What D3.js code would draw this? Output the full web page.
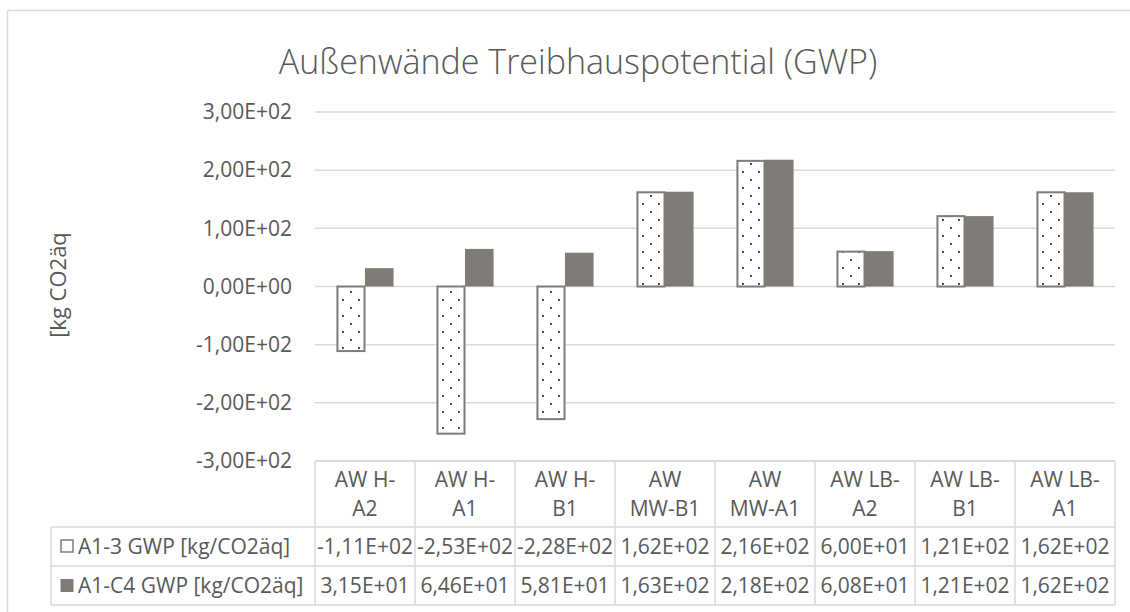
<!DOCTYPE html>
<html>
<head>
    <meta charset="utf-8" />
    <title>Außenwände Treibhauspotential (GWP)</title>
    <style>
        body { margin: 0; background: #fff; }
        text { font-family: "Open Sans", sans-serif; fill: #595959; }
    </style>
</head>
<body>
    <div id="chart"></div>
    <script src="https://cdn.jsdelivr.net/npm/d3@7"></script>
    <script>
        // data
        var categories = ["AW H-\nA2", "AW H-\nA1", "AW H-\nB1", "AW\nMW-B1", "AW\nMW-A1", "AW LB-\nA2", "AW LB-\nB1", "AW LB-\nA1"];
        var seriesNames = ["A1-3 GWP [kg/CO2äq]", "A1-C4 GWP [kg/CO2äq]"];
        var a13 = [-111, -253, -228, 162, 216, 60.0, 121, 162];
        var a1c4 = [31.5, 64.6, 58.1, 163, 218, 60.8, 121, 162];
        var yTicks = [-300, -200, -100, 0, 100, 200, 300];

        var width = 1130, height = 612;
        var plot = { left: 315, right: 1115, top: 112, bottom: 461 };
        var rowH = [66, 39, 39];   // table rows: header, series 1, series 2
        var legendLeft = 51;
        var fs = 21;

        var fmt = function (v) {
            var s = v.toExponential(2).split("e");
            var exp = +s[1];
            return s[0].replace(".", ",") + "E" + (exp < 0 ? "-" : "+") + String(Math.abs(exp)).padStart(2, "0");
        };

        var svg = d3.select("#chart").append("svg")
            .attr("width", width)
            .attr("height", height);

        var pat = svg.append("defs").append("pattern")
            .attr("id", "dots")
            .attr("patternUnits", "userSpaceOnUse")
            .attr("width", 16).attr("height", 16);
        pat.append("rect").attr("width", 16).attr("height", 16).attr("fill", "#fff");
        pat.append("rect").attr("x", 3).attr("y", 3).attr("width", 1.8).attr("height", 1.8).attr("fill", "#222");
        pat.append("rect").attr("x", 11).attr("y", 11).attr("width", 1.8).attr("height", 1.8).attr("fill", "#222");

        // chart frame
        svg.append("rect")
            .attr("x", 7.5).attr("y", 10.5)
            .attr("width", 1140).attr("height", 620)
            .attr("fill", "none")
            .attr("stroke", "#d9d9d9")
            .attr("stroke-width", 1.5);

        svg.append("text")
            .attr("x", 578).attr("y", 74)
            .attr("text-anchor", "middle")
            .attr("font-size", 34)
            .attr("font-weight", 300)
            .text("Außenwände Treibhauspotential (GWP)");

        var x0 = d3.scaleBand()
            .domain(categories)
            .range([plot.left, plot.right]);

        var x1 = d3.scaleBand()
            .domain(seriesNames)
            .range([0, x0.bandwidth()])
            .paddingOuter(0.75);

        var y = d3.scaleLinear()
            .domain([-300, 300])
            .range([plot.bottom, plot.top]);

        // gridlines
        svg.append("g")
            .selectAll("line")
            .data(yTicks)
            .join("line")
            .attr("x1", plot.left).attr("x2", plot.right)
            .attr("y1", d => y(d)).attr("y2", d => y(d))
            .attr("stroke", "#d9d9d9")
            .attr("stroke-width", 1.5);

        var yAxis = svg.append("g")
            .attr("transform", `translate(${plot.left},0)`)
            .call(d3.axisLeft(y).tickValues(yTicks).tickFormat(fmt).tickSize(0).tickPadding(23));
        yAxis.select(".domain").remove();
        yAxis.selectAll("text")
            .attr("font-size", fs)
            .attr("font-family", "'Open Sans', sans-serif")
            .attr("fill", "#595959");

        svg.append("text")
            .attr("transform", "translate(66,285) rotate(-90)")
            .attr("text-anchor", "middle")
            .attr("font-size", 22)
            .text("[kg CO2äq");

        var rows = categories.map((c, i) => ({ cat: c, values: [a13[i], a1c4[i]] }));

        var groups = svg.append("g")
            .selectAll("g")
            .data(rows)
            .join("g")
            .attr("transform", d => `translate(${x0(d.cat)},0)`);

        groups.selectAll("rect")
            .data(d => d.values.map((v, k) => ({ key: seriesNames[k], value: v, k: k })))
            .join("rect")
            .attr("x", d => x1(d.key) + (d.k === 0 ? 1 : 0))
            .attr("width", d => x1.bandwidth() - (d.k === 0 ? 1.5 : 0))
            .attr("y", d => y(Math.max(0, d.value)))
            .attr("height", d => Math.abs(y(d.value) - y(0)))
            .attr("fill", d => d.k === 0 ? "url(#dots)" : "#7f7c77")
            .attr("stroke", d => d.k === 0 ? "#7f7c77" : "none")
            .attr("stroke-width", 2);

        // data table
        var tTop = plot.bottom;
        var r1 = tTop + rowH[0], r2 = r1 + rowH[1], r3 = r2 + rowH[2];
        var table = svg.append("g")
            .attr("stroke", "#d9d9d9")
            .attr("stroke-width", 1.5);
        table.append("line").attr("x1", plot.left).attr("x2", plot.right).attr("y1", tTop).attr("y2", tTop);
        [r1, r2, r3].forEach(yy => table.append("line").attr("x1", legendLeft).attr("x2", plot.right).attr("y1", yy).attr("y2", yy));
        table.append("line").attr("x1", legendLeft).attr("x2", legendLeft).attr("y1", r1).attr("y2", r3);
        table.selectAll(".v")
            .data(categories.concat(["end"]))
            .join("line")
            .attr("class", "v")
            .attr("x1", (d, i) => plot.left + i * x0.step())
            .attr("x2", (d, i) => plot.left + i * x0.step())
            .attr("y1", tTop).attr("y2", r3);

        var catText = svg.append("g")
            .selectAll("text")
            .data(categories)
            .join("text")
            .attr("x", d => x0(d) + x0.bandwidth() / 2)
            .attr("y", tTop + 26)
            .attr("text-anchor", "middle")
            .attr("font-size", fs);
        catText.selectAll("tspan")
            .data(d => d.split("\n"))
            .join("tspan")
            .attr("x", function () { return this.parentNode.getAttribute("x"); })
            .attr("dy", (d, i) => i === 0 ? 0 : 29)
            .text(d => d);

        var seriesRows = [{ name: seriesNames[0], values: a13, top: r1 }, { name: seriesNames[1], values: a1c4, top: r2 }];
        seriesRows.forEach((s, k) => {
            var cy = s.top + rowH[1] / 2;
            svg.append("rect")
                .attr("x", k === 0 ? 61 : 60.5).attr("y", cy - 6.5)
                .attr("width", k === 0 ? 12 : 13).attr("height", k === 0 ? 12 : 13)
                .attr("fill", k === 0 ? "#fff" : "#7f7c77")
                .attr("stroke", k === 0 ? "#7f7c77" : "none")
                .attr("stroke-width", 1.5);
            svg.append("text")
                .attr("x", 78).attr("y", cy + 7.5)
                .attr("font-size", fs)
                .text(s.name);
            svg.append("g")
                .selectAll("text")
                .data(s.values)
                .join("text")
                .attr("x", (d, i) => x0(categories[i]) + x0.bandwidth() / 2)
                .attr("y", cy + 7.5)
                .attr("text-anchor", "middle")
                .attr("font-size", fs)
                .text(d => fmt(d));
        });
    </script>
</body>
</html>
